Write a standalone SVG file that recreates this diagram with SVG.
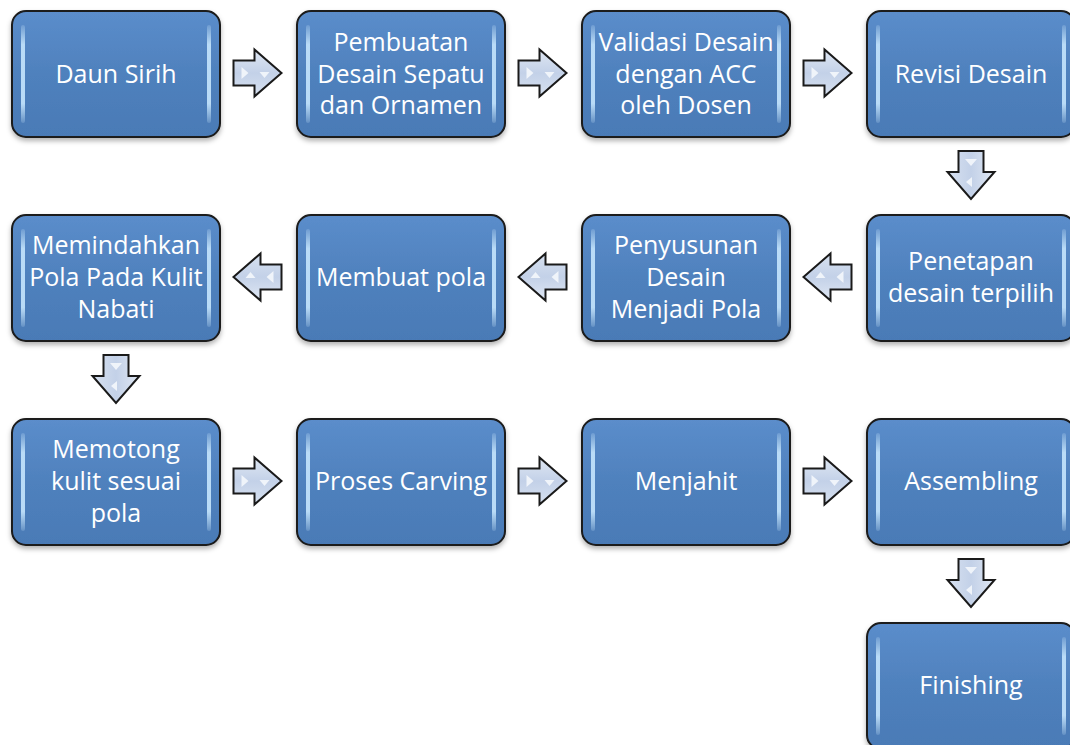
<svg xmlns="http://www.w3.org/2000/svg" width="1070" height="745" viewBox="0 0 1070 745">
<style>
.box{fill:url(#bg);stroke:#1a1a1a;stroke-width:2}
.hl{fill:url(#hg)}
.t{font-family:"Open Sans","Noto Sans",sans-serif;font-size:25px;fill:#ffffff;text-anchor:middle}
.arr{fill:url(#ag);stroke:#1a1a1a;stroke-width:2;stroke-linejoin:miter}
.ahl{fill:#f4f7fc;opacity:0.9}
</style>
<defs>
<linearGradient id="bg" x1="0" y1="0" x2="0" y2="1">
<stop offset="0" stop-color="#5b8dcb"/>
<stop offset="0.5" stop-color="#4f81bd"/>
<stop offset="1" stop-color="#4a7ab6"/>
</linearGradient>
<linearGradient id="hg" x1="0" y1="0" x2="0" y2="1">
<stop offset="0" stop-color="#c9e6fb" stop-opacity="0.2"/>
<stop offset="0.2" stop-color="#bfe0fa" stop-opacity="0.95"/>
<stop offset="0.8" stop-color="#bfe0fa" stop-opacity="0.95"/>
<stop offset="1" stop-color="#c9e6fb" stop-opacity="0.2"/>
</linearGradient>
<linearGradient id="ag" x1="0" y1="0" x2="0" y2="1">
<stop offset="0" stop-color="#dfe7f3"/>
<stop offset="0.5" stop-color="#c3d1e8"/>
<stop offset="1" stop-color="#d7e1f0"/>
</linearGradient>
<filter id="sh" x="-10%" y="-10%" width="120%" height="130%">
<feDropShadow dx="0" dy="3" stdDeviation="2.5" flood-color="#000" flood-opacity="0.3"/>
</filter>
<g id="arrow">
<path class="arr" d="M-24,-12.5 L-3,-12.5 L-3,-23.5 L24,0 L-3,23.5 L-3,12.5 L-24,12.5 Z"/>
<path class="ahl" d="M-16,-6 L-9,0 L-16,6 Z"/>
<path class="ahl" d="M2,-1 L12,-1 L7,5 Z"/>
</g>
<g id="node">
<rect class="box" x="0" y="0" width="208" height="126" rx="14" ry="14" filter="url(#sh)"/>
<rect class="hl" x="9" y="14" width="4" height="98" rx="2"/>
<rect class="hl" x="195" y="14" width="4" height="98" rx="2"/>
</g>
</defs>

<g id="connectors">
<use href="#arrow" transform="translate(257.5,73)"/>
<use href="#arrow" transform="translate(542.5,73)"/>
<use href="#arrow" transform="translate(827.5,73)"/>
<use href="#arrow" transform="translate(971,175) rotate(90)"/>
<use href="#arrow" transform="translate(827.5,277) rotate(180)"/>
<use href="#arrow" transform="translate(542.5,277) rotate(180)"/>
<use href="#arrow" transform="translate(257.5,277) rotate(180)"/>
<use href="#arrow" transform="translate(116,379) rotate(90)"/>
<use href="#arrow" transform="translate(257.5,481)"/>
<use href="#arrow" transform="translate(542.5,481)"/>
<use href="#arrow" transform="translate(827.5,481)"/>
<use href="#arrow" transform="translate(971,583) rotate(90)"/>
</g>

<g id="n1"><use href="#node" x="12" y="11"/><text class="t" x="116" y="83">Daun Sirih</text></g>
<g id="n2"><use href="#node" x="297" y="11"/><text class="t" x="401" y="51">Pembuatan</text><text class="t" x="401" y="83">Desain Sepatu</text><text class="t" x="401" y="114">dan Ornamen</text></g>
<g id="n3"><use href="#node" x="582" y="11"/><text class="t" x="686" y="51">Validasi Desain</text><text class="t" x="686" y="83">dengan ACC</text><text class="t" x="686" y="114">oleh Dosen</text></g>
<g id="n4"><use href="#node" x="867" y="11"/><text class="t" x="971" y="83">Revisi Desain</text></g>

<g id="n5"><use href="#node" x="867" y="215"/><text class="t" x="971" y="270">Penetapan</text><text class="t" x="971" y="302">desain terpilih</text></g>
<g id="n6"><use href="#node" x="582" y="215"/><text class="t" x="686" y="254">Penyusunan</text><text class="t" x="686" y="286">Desain</text><text class="t" x="686" y="318">Menjadi Pola</text></g>
<g id="n7"><use href="#node" x="297" y="215"/><text class="t" x="401" y="286">Membuat pola</text></g>
<g id="n8"><use href="#node" x="12" y="215"/><text class="t" x="116" y="254">Memindahkan</text><text class="t" x="116" y="286">Pola Pada Kulit</text><text class="t" x="116" y="318">Nabati</text></g>

<g id="n9"><use href="#node" x="12" y="419"/><text class="t" x="116" y="458">Memotong</text><text class="t" x="116" y="490">kulit sesuai</text><text class="t" x="116" y="522">pola</text></g>
<g id="n10"><use href="#node" x="297" y="419"/><text class="t" x="401" y="490">Proses Carving</text></g>
<g id="n11"><use href="#node" x="582" y="419"/><text class="t" x="686" y="490">Menjahit</text></g>
<g id="n12"><use href="#node" x="867" y="419"/><text class="t" x="971" y="490">Assembling</text></g>

<g id="n13"><use href="#node" x="867" y="623"/><text class="t" x="971" y="694">Finishing</text></g>
</svg>
